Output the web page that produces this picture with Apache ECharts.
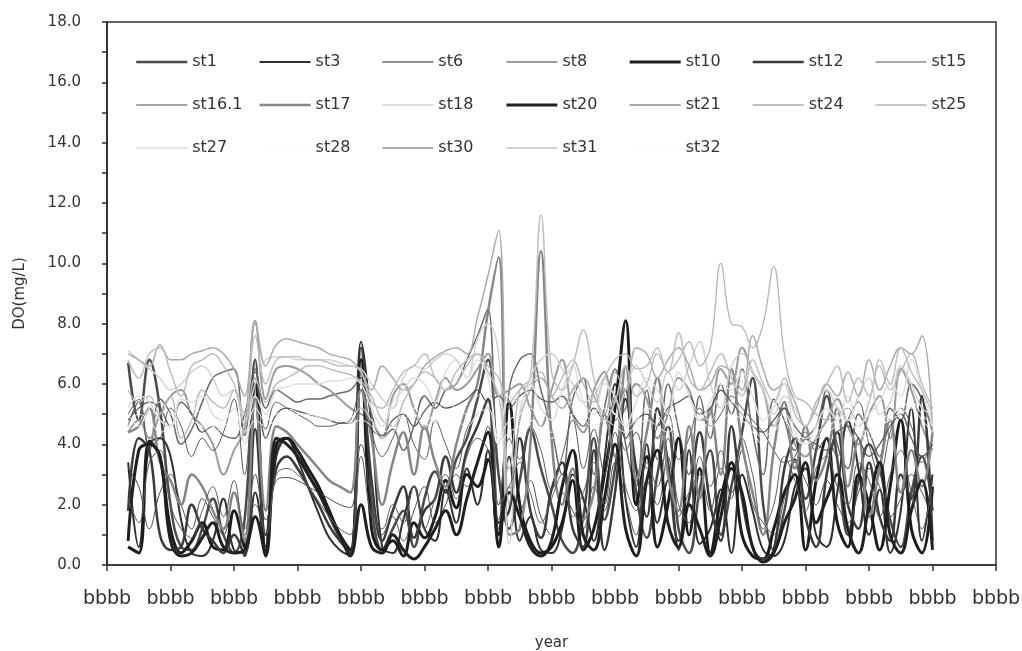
<!DOCTYPE html>
<html>
<head>
<meta charset="utf-8">
<script src="https://cdn.jsdelivr.net/npm/echarts@6/dist/echarts.min.js"></script>
<style>
html,body{margin:0;padding:0;background:#fff;}
#chart{width:1022px;height:651px;}
</style>
</head>
<body>
<div id="chart"></div>
<script>
// x tick labels (one per major x tick)
const xTickLabels = ['bbbb','bbbb','bbbb','bbbb','bbbb','bbbb','bbbb','bbbb','bbbb','bbbb','bbbb','bbbb','bbbb','bbbb','bbbb'];
const xStart = 2; // index of first sample (6 samples per tick interval)

const stationNames = ['st1','st3','st6','st8','st10','st12','st15','st16.1','st17','st18','st20','st21','st24','st25','st27','st28','st30','st31','st32'];

const st1 = [6.7,4.8,6.8,5.2,2.0,0.6,0.5,1.2,2.2,1.0,0.4, 1.5,6.8,0.6,3.8,4.2,3.6,3.0,2.4,1.6,0.9,0.4, 7.2,2.0,0.5,1.2,1.8,0.6,2.2,3.1,2.4,3.5,4.2, 5.5,6.8,3.0,1.2,2.8,4.5,3.2,2.0,0.8,0.4,1.6, 4.2,1.5,3.2,5.8,2.4,0.9,3.0,4.6,1.2,0.4,2.5, 3.8,1.0,2.6,4.4,6.2,2.0,0.5,1.8,3.5,2.2,3.8, 5.6,3.5,1.0,2.8,4.0,3.2,1.5,0.6,2.4,3.6,1.8];
const st3 = [3.4,0.6,4.0,4.2,3.6,1.5,0.4,0.3,0.8,2.2,0.5, 0.4,2.4,0.5,3.6,4.2,3.5,2.6,1.7,0.9,0.5,0.3, 7.4,4.6,0.6,0.4,1.5,2.6,1.2,0.8,2.5,1.4,3.2, 2.0,3.8,0.7,3.6,0.8,1.6,0.5,0.4,1.2,3.0,2.2, 0.8,3.5,6.0,2.2,0.6,4.0,1.4,2.8,0.5,3.8,0.7, 1.2,2.5,0.4,3.0,1.8,0.5,0.3,0.8,2.6,3.2,1.0, 0.6,2.4,4.8,3.2,1.0,2.5,0.4,1.8,5.2,0.8,3.0];
const st6 = [4.6,5.4,3.8,5.5,5.0,4.0,4.5,5.4,6.2,6.4,6.5, 4.3,6.5,5.2,5.8,5.6,5.4,5.5,5.5,5.6,5.7,5.8, 6.2,5.0,4.2,4.5,3.8,4.6,5.6,5.2,5.8,6.0,6.8, 7.6,8.5,1.2,5.8,6.8,7.0,5.8,4.5,3.0,5.5,6.2, 3.0,5.2,6.5,4.0,2.6,5.8,3.5,6.0,4.5,3.0,5.6, 4.2,6.0,5.0,6.5,4.4,3.0,5.5,4.8,3.8,4.2,4.6, 5.8,4.0,3.2,5.0,4.4,3.6,5.2,4.8,6.0,5.5,4.4];
const st8 = [4.4,4.8,4.2,5.0,5.6,5.8,5.0,4.6,4.0,3.0,3.8, 4.5,8.1,5.5,6.5,6.6,6.5,6.3,6.0,5.8,5.5,5.2, 5.0,4.8,4.2,5.6,6.0,5.2,4.5,5.4,6.2,5.8,6.0, 6.5,7.0,5.6,5.8,6.0,5.2,4.6,5.8,6.8,5.0,4.4, 5.8,6.4,4.8,5.2,6.0,5.5,4.2,5.0,6.2,5.8,4.8, 5.0,6.5,6.0,7.2,6.4,5.8,4.6,5.2,4.0,3.6,4.2, 4.8,5.5,4.6,4.0,5.0,5.6,4.2,6.5,5.8,4.6,3.8];
const st10 = [0.6,0.4,4.1,3.6,1.2,0.4,0.8,1.4,0.6,0.5,1.8, 0.6,6.0,0.4,4.0,4.2,3.8,3.2,2.6,1.8,1.0,0.5, 6.8,1.2,0.5,0.8,0.3,1.4,0.9,1.6,2.8,1.9,3.0, 2.6,3.5,0.6,5.4,2.0,0.8,0.4,0.6,1.4,2.8,0.5, 1.2,3.0,5.2,8.1,2.0,3.6,0.6,2.0,4.2,1.0,3.2, 0.4,2.2,3.4,1.0,0.3,0.2,1.2,2.4,3.0,0.5,2.8, 4.2,1.4,0.6,3.0,2.0,0.5,2.6,4.8,1.2,0.4,2.6];
const st12 = [1.8,4.2,3.8,1.0,0.5,0.6,2.0,1.2,0.8,0.4,1.0, 0.3,4.5,1.0,3.2,3.6,3.2,2.6,2.0,1.3,0.8,0.4, 6.5,2.8,0.8,1.8,2.6,0.9,1.8,2.2,3.6,2.4,3.8, 4.6,5.5,1.4,1.8,4.2,1.8,0.9,2.5,3.4,1.2,0.6, 3.8,0.5,2.4,5.5,3.2,1.6,5.2,3.4,0.8,2.2,4.4, 2.0,0.8,4.6,2.2,0.6,0.2,0.5,3.2,4.2,1.6,0.6, 3.0,4.4,2.0,1.2,3.4,1.6,0.8,3.0,2.2,5.6,0.8];
const st15 = [5.0,5.5,4.0,4.2,5.2,4.6,3.6,4.2,3.8,4.4,5.5, 3.0,6.2,4.5,5.4,5.2,5.0,4.8,4.6,4.6,4.7,4.8, 6.0,4.4,3.6,4.2,5.0,4.0,3.5,4.8,4.0,3.2,4.5, 5.0,5.2,2.0,4.2,3.5,4.6,3.8,2.5,3.6,4.8,3.2, 4.5,3.0,5.6,3.8,4.4,3.2,4.6,5.0,3.5,4.2,5.2, 4.6,5.0,5.6,5.2,4.8,4.4,3.8,3.4,3.6,4.4,3.8, 4.2,3.6,4.8,5.4,4.0,3.0,4.4,5.2,4.6,3.4,4.2];
const st16_1 = [3.2,2.6,1.2,2.4,3.0,2.0,1.2,2.2,1.6,1.0,2.4, 1.0,3.0,1.5,2.8,2.9,2.8,2.6,2.4,2.2,2.0,1.9, 4.0,2.2,1.0,1.6,0.8,1.8,2.6,1.4,2.0,3.0,2.6, 3.4,4.6,1.5,2.6,1.8,2.8,1.6,1.0,2.4,1.8,1.2, 2.6,1.8,3.4,2.2,1.0,2.8,2.0,3.6,1.6,2.4,3.0, 1.8,3.2,2.4,3.8,2.0,1.4,1.0,2.2,3.4,2.8,2.0, 2.8,2.0,1.4,2.4,3.2,2.6,1.6,2.2,3.0,2.4,1.6];
const st17 = [4.4,4.6,5.2,3.4,2.8,2.0,3.0,2.6,1.8,1.2,2.4, 0.8,5.5,1.8,4.6,4.4,4.0,3.6,3.2,2.8,2.6,2.4, 5.8,4.2,2.0,3.4,4.4,3.0,4.6,3.4,2.6,4.0,5.2, 6.0,8.4,10.2,1.0,1.2,4.0,10.4,4.2,2.0,3.2,1.5, 2.4,5.0,3.6,6.6,2.8,4.4,6.2,3.0,1.8,4.6,2.2, 5.2,3.0,6.5,4.0,2.4,1.0,3.8,5.4,3.2,4.6,2.8, 3.6,5.2,2.6,4.2,1.6,3.2,4.8,2.4,3.8,2.6,4.4];
const st18 = [7.1,6.8,6.5,6.2,5.8,6.0,6.4,6.6,6.2,5.6,5.8, 4.8,6.0,6.8,6.9,6.9,6.8,6.8,6.8,6.8,6.7,6.6, 6.5,6.0,5.5,5.2,6.2,6.6,6.5,6.8,7.0,6.8,6.2, 7.5,8.0,7.0,0.7,5.0,6.2,6.8,7.0,6.5,6.0,5.4, 5.6,6.2,5.0,5.8,6.6,6.0,5.4,6.4,5.8,6.6,7.4, 6.0,5.2,6.6,7.0,6.4,5.8,5.0,5.6,5.2,4.6,5.4, 5.8,5.2,4.8,5.6,6.2,5.0,5.4,6.6,6.0,5.2,5.0];
const st20 = [0.8,3.8,4.0,3.6,0.8,0.3,0.4,0.9,1.4,0.6,0.4, 0.5,1.6,0.3,4.2,4.0,3.6,3.0,2.4,1.7,1.0,0.3, 2.0,0.6,0.4,1.0,0.5,0.2,0.6,1.2,1.8,1.0,2.2, 3.4,4.4,1.0,2.4,1.6,0.6,0.3,0.8,2.6,3.8,1.0, 0.5,2.2,4.0,1.2,0.3,2.8,3.8,1.4,0.6,2.0,1.2, 0.3,1.6,3.2,2.4,0.6,0.1,0.4,1.4,2.2,3.4,1.4, 2.2,3.0,1.2,0.4,2.0,3.4,1.0,0.4,1.8,2.8,0.5];
const st21 = [4.8,5.2,5.4,5.2,4.6,5.4,5.0,4.4,4.6,4.3,4.2, 5.0,6.4,4.2,5.0,5.2,5.1,5.0,4.9,4.8,4.7,4.7, 5.2,4.5,4.3,4.8,5.0,4.6,5.1,5.4,5.2,5.3,5.5, 5.8,5.4,5.6,5.2,5.6,5.8,5.5,5.4,5.6,5.0,4.6, 5.2,4.8,5.4,4.2,4.8,5.0,4.6,5.2,5.4,5.6,5.0, 5.2,5.8,5.4,5.0,4.6,4.4,4.8,5.2,4.6,4.2,4.0, 3.8,4.4,4.6,4.2,3.6,4.0,4.6,5.0,4.2,3.6,4.0];
const st24 = [7.0,6.8,6.6,7.3,6.8,6.8,7.0,7.1,7.2,7.0,6.5, 5.6,8.0,6.6,7.3,7.5,7.4,7.3,7.2,7.0,6.9,6.8, 6.4,5.8,6.6,6.2,5.8,6.0,6.6,6.9,7.1,7.2,7.0, 8.2,9.6,11.1,2.0,4.8,5.8,6.2,5.6,5.2,5.8,6.2, 5.6,5.0,6.4,5.8,7.2,7.0,6.2,6.8,7.2,6.6,5.8, 6.0,6.6,6.4,5.8,7.6,6.5,5.8,6.0,5.4,4.6,5.2, 6.0,5.6,6.4,5.6,6.8,5.8,6.6,7.2,7.0,7.6,4.4];
const st25 = [5.8,5.4,5.6,5.0,5.6,4.2,4.8,5.8,5.4,5.2,5.8, 4.6,6.2,5.4,6.0,6.2,6.4,6.6,6.6,6.5,6.4,6.3, 6.1,5.6,4.8,4.6,5.4,6.0,6.4,6.2,5.8,6.0,6.6, 7.0,6.6,6.2,5.4,5.8,6.0,6.4,5.6,6.2,6.8,6.0, 5.4,6.2,6.8,7.0,6.5,6.6,7.2,6.4,6.8,7.4,6.6, 7.2,10.0,8.0,7.9,7.2,8.0,9.9,7.0,5.6,5.4,5.0, 4.8,5.0,5.2,4.6,5.4,6.6,5.8,6.4,7.0,6.0,5.2];
const st27 = [5.2,5.6,5.4,4.8,4.6,5.5,5.4,5.6,5.0,4.8,5.2, 4.0,5.6,5.0,5.8,5.9,6.0,6.0,6.0,6.1,6.1,6.2, 6.0,5.2,4.6,5.4,5.8,6.2,6.0,5.4,6.4,6.8,6.2, 6.8,6.2,4.0,5.6,5.4,6.0,5.2,4.8,5.8,6.6,5.4, 5.0,6.0,5.6,4.6,5.4,6.2,5.8,5.0,6.4,5.6,4.8, 5.4,6.0,5.8,6.4,5.6,4.8,5.2,6.0,4.4,4.0,4.6, 5.2,4.8,5.6,4.6,5.0,5.4,6.0,5.6,6.8,5.8,4.6];
const st28 = [5.0,4.6,5.2,5.4,5.0,4.8,5.2,5.0,4.6,4.8,5.0, 4.4,5.2,4.8,5.0,5.1,5.2,5.2,5.1,5.0,5.0,4.9, 5.2,4.8,4.4,4.6,5.0,5.2,4.8,5.0,5.4,5.2,5.0, 5.6,5.8,4.2,4.8,5.0,5.2,4.6,4.4,5.0,5.4,5.0, 4.8,5.2,5.0,4.6,4.8,5.2,5.0,4.6,5.2,5.4,5.0, 4.8,5.2,5.4,5.0,4.6,4.2,4.6,5.0,4.4,4.2,4.4, 4.6,4.8,5.0,4.6,4.4,4.8,5.0,5.2,5.4,5.0,4.6];
const st30 = [2.2,1.4,3.4,3.8,2.0,1.2,0.9,1.8,2.6,1.6,2.8, 1.2,2.0,1.0,3.0,3.2,3.0,2.6,2.1,1.6,1.2,1.0, 3.6,1.6,1.2,2.0,1.4,2.6,1.2,2.2,3.0,2.2,3.6, 4.2,3.8,2.0,2.6,3.4,2.4,1.4,2.2,3.0,1.6,2.4, 3.4,2.0,4.4,2.6,1.8,3.4,2.6,4.2,2.0,1.4,3.6, 2.6,3.8,2.2,4.2,3.0,1.2,2.0,3.6,2.8,1.8,3.2, 3.6,2.6,2.0,3.4,2.8,1.6,3.0,3.8,2.4,1.2,2.8];
const st31 = [6.8,6.2,7.0,7.2,6.4,5.6,6.6,6.8,7.0,6.6,6.0, 5.0,7.6,6.0,6.8,6.9,6.9,6.8,6.8,6.7,6.6,6.6, 6.4,5.4,5.2,5.8,6.4,6.6,7.0,6.2,5.8,6.4,6.8, 7.0,6.4,5.6,3.2,5.8,6.2,11.6,6.4,5.8,6.6,7.8, 6.2,4.8,5.4,6.6,5.6,6.0,7.0,6.4,7.7,6.2,5.8, 6.4,7.0,6.2,5.6,6.8,6.0,5.4,6.2,5.0,4.6,5.4, 6.0,6.6,5.4,6.2,5.6,6.8,6.0,7.2,6.4,5.8,5.0];
const st32 = [4.6,5.0,4.8,4.4,4.6,5.0,4.8,4.6,4.4,4.6,4.8, 4.2,4.8,4.6,4.8,4.9,5.0,5.0,4.9,4.8,4.8,4.7, 4.8,4.6,4.2,4.4,4.8,5.0,4.6,4.8,5.0,4.8,4.6, 5.0,5.2,4.0,4.4,4.6,4.8,4.4,4.2,4.6,5.0,4.8, 4.6,4.8,4.6,4.4,4.6,4.8,4.6,4.4,4.8,5.0,4.8, 4.6,4.8,5.0,4.8,4.4,4.0,4.4,4.8,4.2,4.0,4.2, 4.4,4.6,4.8,4.4,4.2,4.6,4.8,5.0,5.2,4.8,4.4];

const seriesValues = [st1,st3,st6,st8,st10,st12,st15,st16_1,st17,st18,st20,st21,st24,st25,st27,st28,st30,st31,st32];
const seriesColors = ['#4a4a4a','#303030','#6a6a6a','#9c9c9c','#1c1c1c','#3a3a3a','#555555','#4a4a4a','#868686','#d2d2d2','#202020','#525252','#ababab','#b6b6b6','#dedede','#fbfbfb','#5a5a5a','#bfbfbf','#f8f8f8'];
const seriesWidths = [2.5,2,1.5,2,3,2.5,1,1,2.5,1.5,3,1.2,1.5,1.3,1.5,1,1,1.5,1];

const chart = echarts.init(document.getElementById('chart'), null, {renderer:'canvas'});
const FONT = 'DejaVu Sans';

const series = stationNames.map((name, k) => ({
  name: name,
  type: 'line',
  smooth: 0.4,
  symbol: 'none',
  showSymbol: false,
  color: seriesColors[k],
  lineStyle: { color: seriesColors[k], width: seriesWidths[k] },
  emphasis: { disabled: true },
  data: seriesValues[k].map((v, i) => [xStart + i, v])
}));

// legend laid out as a 7-column grid, one vertical legend per column
const legendCols = 7;
const legends = [];
for (let c = 0; c < legendCols; c++) {
  legends.push({
    data: stationNames.filter((_, i) => i % legendCols === c),
    orient: 'vertical',
    left: 130 + c * 123.3, top: 49,
    itemWidth: 51, itemHeight: 14, itemGap: 27,
    itemStyle: { opacity: 0 },
    lineStyle: { width: 'inherit' },
    textStyle: { fontFamily: FONT, fontSize: 16, color: '#333', lineHeight: 14 },
    selectedMode: false
  });
}

chart.setOption({
  animation: false,
  backgroundColor: '#ffffff',
  textStyle: { fontFamily: FONT },
  grid: { left: 107, right: 26, top: 22, bottom: 86, outerBoundsMode: 'none', containLabel: false, show: true, borderColor: '#333', borderWidth: 1.5, backgroundColor: 'transparent' },
  legend: legends,
  xAxis: {
    type: 'value', min: 0, max: 84, interval: 6,
    name: 'year', nameLocation: 'middle', nameGap: 71,
    nameTextStyle: { fontFamily: FONT, fontSize: 15, color: '#333' },
    axisLine: { show: true, lineStyle: { color: '#333', width: 1.5 } },
    axisTick: { show: true, inside: false, length: 6, lineStyle: { color: '#333', width: 1.5 } },
    axisLabel: { margin: 25, fontFamily: FONT, fontSize: 19, color: '#333', formatter: v => xTickLabels[Math.round(v / 6)] },
    splitLine: { show: false }
  },
  yAxis: {
    type: 'value', min: 0, max: 18, interval: 2,
    name: 'DO(mg/L)', nameLocation: 'middle', nameGap: 79, nameRotate: 90,
    nameTextStyle: { fontFamily: FONT, fontSize: 15, color: '#333' },
    axisLine: { show: true, lineStyle: { color: '#333', width: 2 } },
    axisTick: { show: true, inside: false, length: 5, lineStyle: { color: '#333', width: 1.5 } },
    minorTick: { show: true, splitNumber: 2, length: 5, lineStyle: { color: '#333', width: 1.5 } },
    axisLabel: { margin: 26, fontFamily: FONT, fontSize: 15, color: '#333', formatter: v => v.toFixed(1) },
    splitLine: { show: false }
  },
  series: series
});
</script>
</body>
</html>
